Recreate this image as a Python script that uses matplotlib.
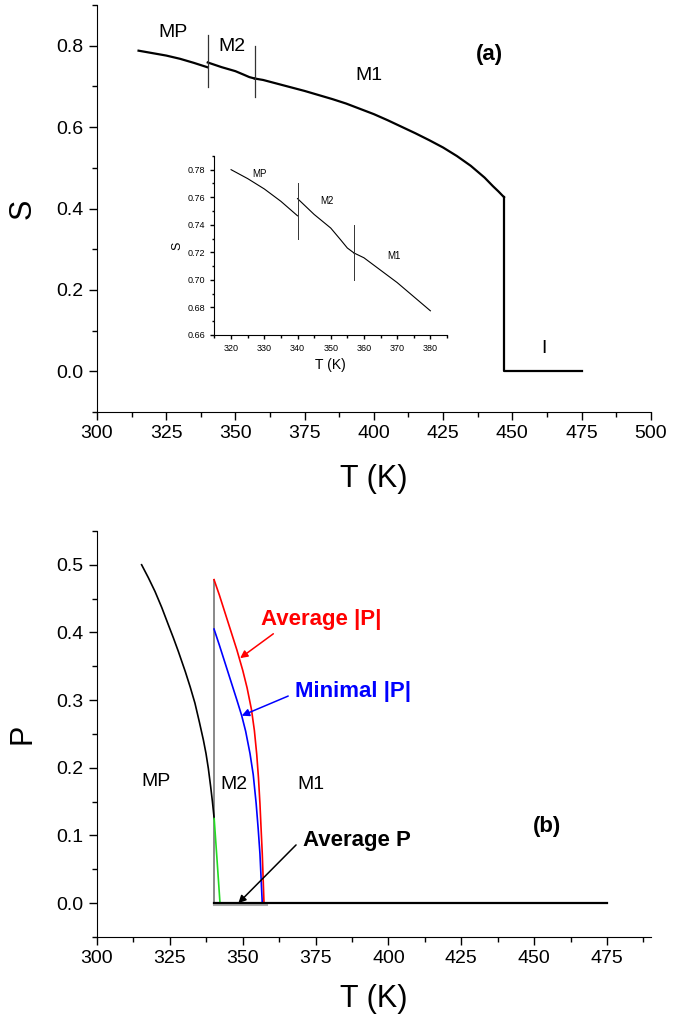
import matplotlib
matplotlib.use("Agg")
import matplotlib.pyplot as plt
from matplotlib.ticker import MultipleLocator, FormatStrFormatter

plt.rcParams['font.family'] = ['Liberation Sans', 'DejaVu Sans']

# order parameter S(T), main panel
T_mp = [315, 320, 325, 330, 335, 340]
S_mp = [0.788, 0.782, 0.776, 0.768, 0.758, 0.747]
T_m2 = [340, 345, 350, 353, 355, 357]
S_m2 = [0.759, 0.7475, 0.7376, 0.729, 0.7231, 0.7195]
T_m1 = [357, 360, 365, 370, 375, 380, 385, 390, 395, 400, 405, 410, 415,
        420, 425, 430, 435, 440, 443, 445, 447]
S_m1 = [0.7195, 0.716, 0.707, 0.698, 0.689, 0.679, 0.669, 0.658, 0.645, 0.632,
        0.617, 0.601, 0.585, 0.568, 0.550, 0.529, 0.505, 0.476, 0.455, 0.442, 0.428]
T_iso = [447, 447, 475]
S_iso = [0.428, 0.0, 0.0]

# inset zoom of S(T)
Ti_mp = [320, 325, 330, 335, 340]
Si_mp = [0.780, 0.7735, 0.766, 0.757, 0.7465]
Ti_m2 = [340, 345, 350, 353, 355, 357]
Si_m2 = [0.759, 0.7475, 0.7376, 0.729, 0.7231, 0.7195]
Ti_m1 = [357, 360, 370, 380]
Si_m1 = [0.7195, 0.716, 0.698, 0.6775]

# transitions
T_trans = [340, 357]
main_bars = [(0.699, 0.826), (0.674, 0.800)]
inset_bars = [(0.730, 0.770), (0.700, 0.740)]

# polarization P(T), lower panel
Tp_mp = [315.3, 317.6, 319.9, 322.2, 324.5, 326.2, 327.9, 330.3, 332.0, 333.6, 335.1,
         336.5, 337.4, 338.2, 339.0, 339.6, 340.2]
P_mp = [0.500, 0.481, 0.4605, 0.437, 0.411, 0.392, 0.372, 0.342, 0.319, 0.2955, 0.268,
        0.241, 0.221, 0.199, 0.172, 0.150, 0.125]
Tp_green = [340.2, 341.2, 342.2]
P_green = [0.125, 0.063, 0.0]
Tp_avg_abs = [340.15, 342.0, 344.0, 346.0, 348.0, 350.0, 351.5, 353.0, 354.0, 354.8,
              355.4, 355.9, 356.3, 356.7, 357.0, 357.3]
P_avg_abs = [0.478, 0.455, 0.428, 0.401, 0.374, 0.344, 0.318, 0.286, 0.255, 0.220,
             0.185, 0.1475, 0.110, 0.0735, 0.037, 0.0]
Tp_min_abs = [340.15, 342.0, 344.0, 346.0, 348.0, 349.65, 351.0, 352.5, 353.6, 354.6,
              355.3, 355.9, 356.3, 356.7]
P_min_abs = [0.405, 0.381, 0.354, 0.327, 0.300, 0.277, 0.254, 0.221, 0.190, 0.1475,
             0.110, 0.0735, 0.037, 0.0]
Tp_zero = [340, 475]
P_zero = [0.0, 0.0]


def style_axes(ax, major_x, minor_x, major_y, minor_y, fmt, size, maj_len, min_len):
    ax.spines['top'].set_visible(False)
    ax.spines['right'].set_visible(False)
    ax.xaxis.set_major_locator(MultipleLocator(major_x))
    ax.xaxis.set_minor_locator(MultipleLocator(minor_x))
    ax.yaxis.set_major_locator(MultipleLocator(major_y))
    ax.yaxis.set_minor_locator(MultipleLocator(minor_y))
    ax.yaxis.set_major_formatter(FormatStrFormatter(fmt))
    ax.tick_params(which='major', direction='out', length=maj_len, width=1, labelsize=size)
    ax.tick_params(which='minor', direction='out', length=min_len, width=1)


def pointer(ax, text, tip, start, pos, color):
    ax.annotate('', xy=tip, xytext=start,
                arrowprops=dict(arrowstyle='-|>', color=color, lw=1.1,
                                mutation_scale=11, shrinkA=0, shrinkB=0))
    ax.text(pos[0], pos[1], text, color=color, fontsize=16, fontweight='bold',
            ha='center', va='center')


fig = plt.figure(figsize=(6.93, 10.21), dpi=100)

# ---- panel (a)
ax1 = fig.add_axes([0.14, 0.5965, 0.799, 0.3985])
lw = 1.6
ax1.plot(T_mp, S_mp, color='black', lw=lw)
ax1.plot(T_m2, S_m2, color='black', lw=lw)
ax1.plot(T_m1, S_m1, color='black', lw=lw)
ax1.plot(T_iso, S_iso, color='black', lw=lw)
for t, (lo, hi) in zip(T_trans, main_bars):
    ax1.plot([t, t], [lo, hi], color='#333333', lw=0.9)
ax1.set_xlim(300, 500)
ax1.set_ylim(-0.1, 0.9)
style_axes(ax1, 25, 12.5, 0.2, 0.1, '%.1f', 14, 6, 3.5)
ax1.set_xlabel('T (K)', fontsize=22, labelpad=16)
ax1.set_ylabel('S', fontsize=22, labelpad=14)
ax1.text(327.5, 0.832, 'MP', fontsize=14, ha='center', va='center')
ax1.text(348.9, 0.799, 'M2', fontsize=14, ha='center', va='center')
ax1.text(398.2, 0.728, 'M1', fontsize=14, ha='center', va='center')
ax1.text(441.7, 0.779, '(a)', fontsize=16, fontweight='bold', ha='center', va='center')
ax1.text(461.6, 0.055, 'I', fontsize=14, ha='center', va='center')

# inset
axi = fig.add_axes([0.3095, 0.672, 0.3355, 0.1753])
axi.plot(Ti_mp, Si_mp, color='black', lw=0.8)
axi.plot(Ti_m2, Si_m2, color='black', lw=0.8)
axi.plot(Ti_m1, Si_m1, color='black', lw=0.8)
for t, (lo, hi) in zip(T_trans, inset_bars):
    axi.plot([t, t], [lo, hi], color='#333333', lw=0.7)
axi.set_xlim(315, 385)
axi.set_ylim(0.66, 0.79)
style_axes(axi, 10, 5, 0.02, 0.01, '%.2f', 6.5, 3, 1.8)
axi.set_xlabel('T (K)', fontsize=10, labelpad=4)
axi.set_ylabel('S', fontsize=9, labelpad=3)
axi.text(328.5, 0.777, 'MP', fontsize=7, ha='center', va='center')
axi.text(349.0, 0.757, 'M2', fontsize=7, ha='center', va='center')
axi.text(369.0, 0.717, 'M1', fontsize=7, ha='center', va='center')

# ---- panel (b)
ax2 = fig.add_axes([0.14, 0.0823, 0.799, 0.3977])
ax2.plot([340.15, 340.15], [0.0, 0.478], color='gray', lw=1.3)
ax2.plot([340, 358], [-0.001, -0.001], color='#aaaaaa', lw=2.2)
ax2.plot(Tp_mp, P_mp, color='black', lw=1.2)
ax2.plot(Tp_green, P_green, color='#22dd22', lw=1.2)
ax2.plot(Tp_avg_abs, P_avg_abs, color='red', lw=1.2)
ax2.plot(Tp_min_abs, P_min_abs, color='blue', lw=1.2)
ax2.plot(Tp_zero, P_zero, color='black', lw=1.6)
ax2.set_xlim(300, 490)
ax2.set_ylim(-0.05, 0.55)
style_axes(ax2, 25, 12.5, 0.1, 0.05, '%.1f', 14, 6, 3.5)
ax2.set_xlabel('T (K)', fontsize=22, labelpad=12)
ax2.set_ylabel('P', fontsize=22, labelpad=14)

ax2.text(320.2, 0.179, 'MP', fontsize=14, ha='center', va='center')
ax2.text(347.0, 0.1755, 'M2', fontsize=14, ha='center', va='center')
ax2.text(373.3, 0.1755, 'M1', fontsize=14, ha='center', va='center')
ax2.text(454.3, 0.1126, '(b)', fontsize=16, fontweight='bold', ha='center', va='center')

pointer(ax2, 'Average |P|', (349.1, 0.362), (360.5, 0.398), (376.9, 0.4186), 'red')
pointer(ax2, 'Minimal |P|', (349.65, 0.277), (365.6, 0.306), (388.0, 0.312), 'blue')
pointer(ax2, 'Average P', (348.5, 0.0), (368.3, 0.086), (389.1, 0.093), 'black')

fig.savefig('out.png', dpi=100)
